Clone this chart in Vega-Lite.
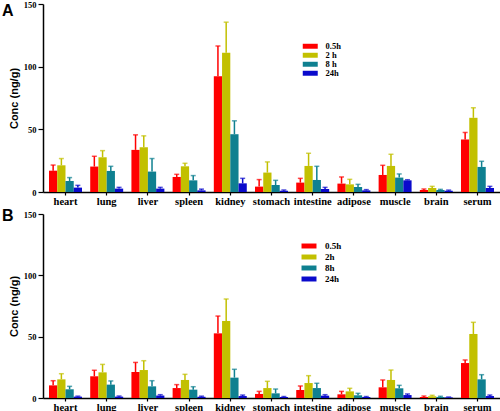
{
  "$schema": "https://vega.github.io/schema/vega-lite/v6.json",
  "padding": {"left": 2, "top": 0, "right": 0, "bottom": 0},
  "spacing": 1,
  "config": {
    "view": {"stroke": null},
    "axis": {"grid": false, "domainColor": "black", "tickColor": "black", "domainWidth": 1.5, "tickWidth": 1.2, "labelFont": "Liberation Serif", "labelFontWeight": "bold", "labelColor": "black", "titleFont": "Liberation Sans", "titleFontWeight": "bold", "titleColor": "black"},
    "legend": {"title": null, "orient": "none", "symbolType": "M-2.14,-0.71H2.14V0.71H-2.14Z", "symbolSize": 49, "symbolStrokeWidth": 0, "labelFont": "Liberation Serif", "labelFontWeight": "bold", "labelColor": "black", "padding": 0}
  },
  "datasets": {
    "A": [
      {"organ": "heart", "time": "0.5h", "value": 17, "upper": 21.5},
      {"organ": "heart", "time": "2h", "value": 21.3, "upper": 26.7},
      {"organ": "heart", "time": "8h", "value": 8.8, "upper": 11.5},
      {"organ": "heart", "time": "24h", "value": 3.5, "upper": 5.3},
      {"organ": "lung", "time": "0.5h", "value": 20.3, "upper": 28.5},
      {"organ": "lung", "time": "2h", "value": 27.7, "upper": 33},
      {"organ": "lung", "time": "8h", "value": 16.8, "upper": 20.5},
      {"organ": "lung", "time": "24h", "value": 2.7, "upper": 3.7},
      {"organ": "liver", "time": "0.5h", "value": 33.6, "upper": 45.6},
      {"organ": "liver", "time": "2h", "value": 35.7, "upper": 44.8},
      {"organ": "liver", "time": "8h", "value": 16.3, "upper": 26.7},
      {"organ": "liver", "time": "24h", "value": 2.7, "upper": 3.7},
      {"organ": "spleen", "time": "0.5h", "value": 12, "upper": 14.1},
      {"organ": "spleen", "time": "2h", "value": 20.5, "upper": 22.9},
      {"organ": "spleen", "time": "8h", "value": 9.3, "upper": 13.1},
      {"organ": "spleen", "time": "24h", "value": 1.3, "upper": 2.3},
      {"organ": "kidney", "time": "0.5h", "value": 92.3, "upper": 116.5},
      {"organ": "kidney", "time": "2h", "value": 111.2, "upper": 135.5},
      {"organ": "kidney", "time": "8h", "value": 46.1, "upper": 56.8},
      {"organ": "kidney", "time": "24h", "value": 6.9, "upper": 10.9},
      {"organ": "stomach", "time": "0.5h", "value": 4.3, "upper": 9.9},
      {"organ": "stomach", "time": "2h", "value": 15.5, "upper": 24},
      {"organ": "stomach", "time": "8h", "value": 5.6, "upper": 9.3},
      {"organ": "stomach", "time": "24h", "value": 1, "upper": 1.6},
      {"organ": "intestine", "time": "0.5h", "value": 7.5, "upper": 10.9},
      {"organ": "intestine", "time": "2h", "value": 20.8, "upper": 30.9},
      {"organ": "intestine", "time": "8h", "value": 9.6, "upper": 20.5},
      {"organ": "intestine", "time": "24h", "value": 2.4, "upper": 3.7},
      {"organ": "adipose", "time": "0.5h", "value": 6.7, "upper": 12},
      {"organ": "adipose", "time": "2h", "value": 6.1, "upper": 10.1},
      {"organ": "adipose", "time": "8h", "value": 4, "upper": 6.1},
      {"organ": "adipose", "time": "24h", "value": 1.3, "upper": 1.9},
      {"organ": "muscle", "time": "0.5h", "value": 13.6, "upper": 21.3},
      {"organ": "muscle", "time": "2h", "value": 20.8, "upper": 30.1},
      {"organ": "muscle", "time": "8h", "value": 11.5, "upper": 14.4},
      {"organ": "muscle", "time": "24h", "value": 9.3, "upper": 9.8},
      {"organ": "brain", "time": "0.5h", "value": 1.6, "upper": 2.4},
      {"organ": "brain", "time": "2h", "value": 3.2, "upper": 4.5},
      {"organ": "brain", "time": "8h", "value": 1.6, "upper": 2.1},
      {"organ": "brain", "time": "24h", "value": 1, "upper": 1.5},
      {"organ": "serum", "time": "0.5h", "value": 41.9, "upper": 47.5},
      {"organ": "serum", "time": "2h", "value": 59.2, "upper": 67.2},
      {"organ": "serum", "time": "8h", "value": 20, "upper": 24.5},
      {"organ": "serum", "time": "24h", "value": 3.2, "upper": 4.5}
    ],
    "B": [
      {"organ": "heart", "time": "0.5h", "value": 10.3, "upper": 14.1},
      {"organ": "heart", "time": "2h", "value": 15.2, "upper": 19.8},
      {"organ": "heart", "time": "8h", "value": 7.1, "upper": 9.5},
      {"organ": "heart", "time": "24h", "value": 1.1, "upper": 1.5},
      {"organ": "lung", "time": "0.5h", "value": 17.7, "upper": 22.6},
      {"organ": "lung", "time": "2h", "value": 20.9, "upper": 27.4},
      {"organ": "lung", "time": "8h", "value": 10.9, "upper": 13.9},
      {"organ": "lung", "time": "24h", "value": 1.1, "upper": 1.6},
      {"organ": "liver", "time": "0.5h", "value": 21.2, "upper": 29},
      {"organ": "liver", "time": "2h", "value": 22.8, "upper": 30.4},
      {"organ": "liver", "time": "8h", "value": 9.5, "upper": 14.1},
      {"organ": "liver", "time": "24h", "value": 2, "upper": 2.7},
      {"organ": "spleen", "time": "0.5h", "value": 8.1, "upper": 10.9},
      {"organ": "spleen", "time": "2h", "value": 14.7, "upper": 19.3},
      {"organ": "spleen", "time": "8h", "value": 6.8, "upper": 9.2},
      {"organ": "spleen", "time": "24h", "value": 1, "upper": 1.5},
      {"organ": "kidney", "time": "0.5h", "value": 52.7, "upper": 66.8},
      {"organ": "kidney", "time": "2h", "value": 62.8, "upper": 80.7},
      {"organ": "kidney", "time": "8h", "value": 16.6, "upper": 23.4},
      {"organ": "kidney", "time": "24h", "value": 1.6, "upper": 2.4},
      {"organ": "stomach", "time": "0.5h", "value": 3.3, "upper": 5.4},
      {"organ": "stomach", "time": "2h", "value": 8.1, "upper": 13.6},
      {"organ": "stomach", "time": "8h", "value": 3.8, "upper": 7.3},
      {"organ": "stomach", "time": "24h", "value": 0.8, "upper": 1.2},
      {"organ": "intestine", "time": "0.5h", "value": 6.5, "upper": 9.8},
      {"organ": "intestine", "time": "2h", "value": 12.2, "upper": 18.2},
      {"organ": "intestine", "time": "8h", "value": 8.1, "upper": 12},
      {"organ": "intestine", "time": "24h", "value": 1.9, "upper": 2.7},
      {"organ": "adipose", "time": "0.5h", "value": 3, "upper": 5.4},
      {"organ": "adipose", "time": "2h", "value": 5.4, "upper": 7.9},
      {"organ": "adipose", "time": "8h", "value": 2.2, "upper": 3.8},
      {"organ": "adipose", "time": "24h", "value": 0.8, "upper": 1.2},
      {"organ": "muscle", "time": "0.5h", "value": 8.7, "upper": 14.7},
      {"organ": "muscle", "time": "2h", "value": 14.7, "upper": 22.8},
      {"organ": "muscle", "time": "8h", "value": 7.9, "upper": 10.3},
      {"organ": "muscle", "time": "24h", "value": 2.4, "upper": 3.3},
      {"organ": "brain", "time": "0.5h", "value": 0.8, "upper": 1.6},
      {"organ": "brain", "time": "2h", "value": 1.4, "upper": 2.2},
      {"organ": "brain", "time": "8h", "value": 0.8, "upper": 1.4},
      {"organ": "brain", "time": "24h", "value": 0.5, "upper": 0.8},
      {"organ": "serum", "time": "0.5h", "value": 28.5, "upper": 31},
      {"organ": "serum", "time": "2h", "value": 52.2, "upper": 61.7},
      {"organ": "serum", "time": "8h", "value": 15.2, "upper": 19},
      {"organ": "serum", "time": "24h", "value": 1.6, "upper": 2.4}
    ]
  },
  "resolve": {"scale": {"color": "independent"}, "legend": {"color": "independent"}},
  "vconcat": [
    {
      "width": 457,
      "height": 188,
      "data": {"name": "A"},
      "title": {"text": "A", "anchor": "start", "frame": "group", "orient": "top", "offset": -19, "dx": -41, "fontSize": 16, "font": "Liberation Sans", "fontWeight": "bold", "color": "black"},
      "encoding": {
        "x": {"field": "organ", "type": "nominal", "sort": ["heart", "lung", "liver", "spleen", "kidney", "stomach", "intestine", "adipose", "muscle", "brain", "serum"], "scale": {"paddingInner": 0.2, "paddingOuter": 0.146}, "axis": {"title": null, "labelAngle": 0, "labelFontSize": 10.5, "tickSize": 3, "labelPadding": 1}},
        "xOffset": {"field": "time", "type": "nominal", "sort": ["0.5h", "2h", "8h", "24h"], "scale": {"paddingInner": 0, "paddingOuter": 0}}
      },
      "layer": [
        {
          "mark": {"type": "bar"},
          "encoding": {
            "y": {"field": "value", "type": "quantitative", "scale": {"domain": [0, 150], "nice": false}, "axis": {"title": "Conc (ng/g)", "values": [0, 25, 50, 75, 100, 125, 150], "labelExpr": "datum.value % 50 == 0 ? datum.label : ''", "tickSize": {"condition": {"test": "datum.value % 50 == 0", "value": 5}, "value": 3}, "labelFontSize": 8.5, "titleFontSize": 11, "titlePadding": 4, "labelPadding": 2}},
            "color": {"field": "time", "type": "nominal", "scale": {"domain": ["0.5h", "2h", "8h", "24h"], "range": ["#ff0000", "#c2c000", "#0f8090", "#0a0acc"]}, "legend": {"legendX": 263, "legendY": 38, "labelFontSize": 8.5, "labelOffset": 11, "rowPadding": 0, "labelExpr": "datum.label == '2h' ? '2 h' : datum.label == '8h' ? '8 h' : datum.label"}}
          }
        },
        {
          "mark": {"type": "rule", "strokeWidth": 1.5},
          "encoding": {
            "y": {"field": "value", "type": "quantitative"},
            "y2": {"field": "upper"},
            "stroke": {"field": "time", "type": "nominal", "scale": {"domain": ["0.5h", "2h", "8h", "24h"], "range": ["#ff0000", "#c2c000", "#0f8090", "#0a0acc"]}, "legend": null}
          }
        },
        {
          "mark": {"type": "tick", "thickness": 1.5, "size": 5},
          "encoding": {
            "y": {"field": "upper", "type": "quantitative"},
            "fill": {"field": "time", "type": "nominal", "scale": {"domain": ["0.5h", "2h", "8h", "24h"], "range": ["#ff0000", "#c2c000", "#0f8090", "#0a0acc"]}, "legend": null}
          }
        }
      ]
    },
    {
      "width": 457,
      "height": 184,
      "data": {"name": "B"},
      "title": {"text": "B", "anchor": "start", "frame": "group", "orient": "top", "offset": -14, "dx": -41, "fontSize": 16, "font": "Liberation Sans", "fontWeight": "bold", "color": "black"},
      "encoding": {
        "x": {"field": "organ", "type": "nominal", "sort": ["heart", "lung", "liver", "spleen", "kidney", "stomach", "intestine", "adipose", "muscle", "brain", "serum"], "scale": {"paddingInner": 0.2, "paddingOuter": 0.146}, "axis": {"title": null, "labelAngle": 0, "labelFontSize": 10.5, "tickSize": 3, "labelPadding": 1}},
        "xOffset": {"field": "time", "type": "nominal", "sort": ["0.5h", "2h", "8h", "24h"], "scale": {"paddingInner": 0, "paddingOuter": 0}}
      },
      "layer": [
        {
          "mark": {"type": "bar"},
          "encoding": {
            "y": {"field": "value", "type": "quantitative", "scale": {"domain": [0, 150], "nice": false}, "axis": {"title": "Conc (ng/g)", "values": [0, 25, 50, 75, 100, 125, 150], "labelExpr": "datum.value % 50 == 0 ? datum.label : ''", "tickSize": {"condition": {"test": "datum.value % 50 == 0", "value": 5}, "value": 3}, "labelFontSize": 8.5, "titleFontSize": 11, "titlePadding": 4, "labelPadding": 2}},
            "color": {"field": "time", "type": "nominal", "scale": {"domain": ["0.5h", "2h", "8h", "24h"], "range": ["#ff0000", "#c2c000", "#0f8090", "#0a0acc"]}, "legend": {"legendX": 261.5, "legendY": 27.5, "labelFontSize": 9, "labelOffset": 11.5, "rowPadding": 1}}
          }
        },
        {
          "mark": {"type": "rule", "strokeWidth": 1.5},
          "encoding": {
            "y": {"field": "value", "type": "quantitative"},
            "y2": {"field": "upper"},
            "stroke": {"field": "time", "type": "nominal", "scale": {"domain": ["0.5h", "2h", "8h", "24h"], "range": ["#ff0000", "#c2c000", "#0f8090", "#0a0acc"]}, "legend": null}
          }
        },
        {
          "mark": {"type": "tick", "thickness": 1.5, "size": 5},
          "encoding": {
            "y": {"field": "upper", "type": "quantitative"},
            "fill": {"field": "time", "type": "nominal", "scale": {"domain": ["0.5h", "2h", "8h", "24h"], "range": ["#ff0000", "#c2c000", "#0f8090", "#0a0acc"]}, "legend": null}
          }
        }
      ]
    }
  ]
}
